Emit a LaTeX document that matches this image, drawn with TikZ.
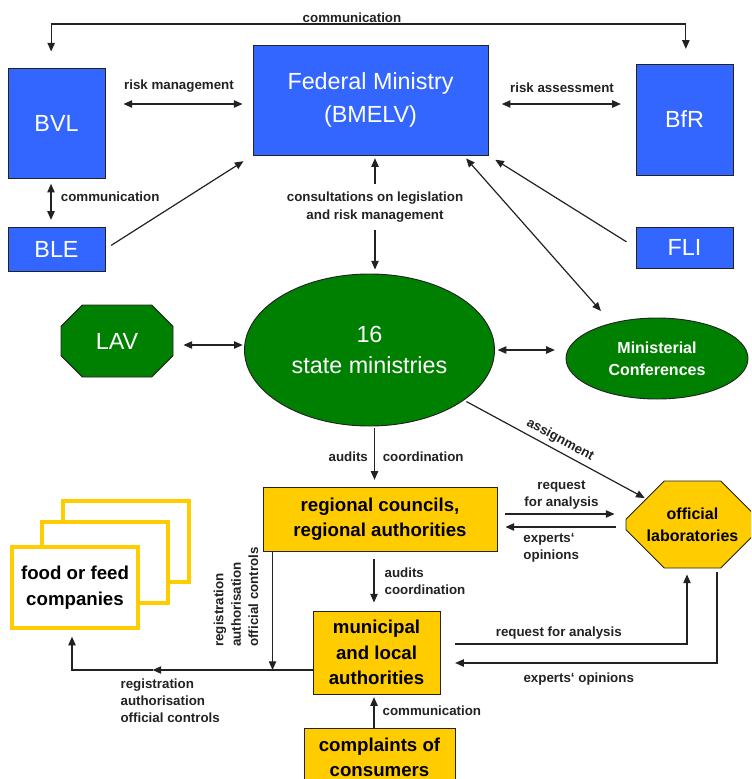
\documentclass[tikz,border=0pt]{standalone}
\usepackage{fontspec}
\setmainfont{Liberation Sans}
\usetikzlibrary{arrows.meta,calc,shapes.geometric,shapes.misc}
\definecolor{fedblue}{HTML}{3366FF}
\definecolor{landgreen}{HTML}{008000}
\definecolor{regyellow}{HTML}{FFCC00}
\definecolor{edgegray}{HTML}{222222}

\begin{document}
\begin{tikzpicture}[x=0.75pt,y=-0.75pt,
bluebox/.style={draw=edgegray,line width=0.7pt,fill=fedblue,text=white,inner sep=0pt,align=center,font=\fontsize{17.5}{24.5}\selectfont},
greenoval/.style={ellipse,draw=edgegray,line width=0.7pt,fill=landgreen,text=white,inner sep=0pt,align=center},
yelbox/.style={draw=edgegray,line width=0.7pt,fill=regyellow,inner sep=0pt,align=center,font=\bfseries\fontsize{14}{19}\selectfont},
cutbox/.style={chamfered rectangle,chamfered rectangle xsep=10pt,chamfered rectangle ysep=10pt,draw=edgegray,line width=0.7pt,inner sep=0pt,align=center},
firmbox/.style={draw=regyellow,line width=3pt,fill=white,minimum width=94.5pt,minimum height=60.75pt},
lbl/.style={font=\bfseries\fontsize{10}{13}\selectfont,inner sep=1pt,text=edgegray},
arr/.style={draw=edgegray,line width=0.9pt,-{Triangle[length=6.5pt,width=5.5pt]}},
dblarr/.style={draw=edgegray,line width=0.9pt,{Triangle[length=6.5pt,width=5.5pt]}-{Triangle[length=6.5pt,width=5.5pt]}}]

\useasboundingbox (0,0) rectangle (751,779);
\clip (0,0) rectangle (751,779);

%Federal level
\node[bluebox,minimum width=72.75pt,minimum height=82.5pt] (BVL) at (56.5,123) {BVL};
\node[bluebox,minimum width=176.25pt,minimum height=82.5pt] (fed) at (370.5,100) {Federal Ministry\\(BMELV)};
\node[bluebox,minimum width=72.75pt,minimum height=83.25pt] (BfR) at (684.5,119.5) {BfR};
\node[bluebox,minimum width=72.75pt,minimum height=33pt] (BLE) at (56.5,249) {BLE};
\node[bluebox,minimum width=72.75pt,minimum height=30.75pt] (FLI) at (684.5,247.5) {FLI};

\coordinate (commtop) at (352,24);
\draw[dblarr,shorten <=12pt,shorten >=11pt] ([xshift=-4pt]BVL.north) |- (commtop) -| ([xshift=1pt]BfR.north);
\node[lbl,above] (lcomm) at (commtop) {communication};

\draw[dblarr,shorten <=13.5pt,shorten >=7.5pt] ($(BVL.east)+(0,-19)$) -- ($(BVL.east -| fed.west)+(0,-19)$) node[lbl,midway,above=7pt] (lriskm) {risk management};
\draw[dblarr,shorten <=10pt,shorten >=11pt] ($(fed.east)+(0,4)$) -- ($(fed.east -| BfR.west)+(0,4)$) node[lbl,midway,above=7pt] (lriska) {risk assessment};
\draw[dblarr,shorten <=4pt,shorten >=5pt] ($(BVL.south)+(-5.5,0)$) -- ($(BLE.north)+(-5.5,0)$) node[lbl,pos=0.37,right=6pt] (lcomm2) {communication};
\draw[arr,shorten <=5pt,shorten >=8pt] (BLE.east) -- (fed.south west);
\draw[arr,shorten <=8pt,shorten >=6pt] (FLI.west) -- (fed.south east);

%State level
\node[greenoval,minimum width=187.5pt,minimum height=114pt,font=\fontsize{17.5}{23.5}\selectfont] (state) at (369.5,350) {16\\state ministries};
\node[greenoval,minimum width=136.5pt,minimum height=60.75pt,font=\bfseries\fontsize{12}{16.5}\selectfont] (minconf) at (657,358.5) {Ministerial\\Conferences};
\node[cutbox,fill=landgreen,text=white,minimum width=84pt,minimum height=54pt,font=\fontsize{17.5}{24}\selectfont] (LAV) at (117,341) {LAV};

\node[lbl,align=center] (consult) at (375,207) {consultations on legislation\\and risk management};
\draw[arr,shorten <=5pt,shorten >=2pt] (consult.north) -- (consult.north |- fed.south);
\draw[arr,shorten <=5pt,shorten >=3pt] (consult.south) -- (consult.south |- state.north);
\draw[dblarr,shorten <=3pt,shorten >=12pt] ($(fed.south east)+(-25,0)$) -- (minconf.142);
\draw[dblarr,shorten <=7.5pt,shorten >=1pt] ($(LAV.east)+(0,4)$) -- ($(LAV.east -| state.west)+(0,4)$);
\draw[dblarr,shorten <=2pt,shorten >=8pt] (state.east) -- (state.east -| minconf.west);

%Regional and local level
\node[yelbox,minimum width=175.5pt,minimum height=48pt] (regional) at (380,519) {regional councils,\\regional authorities};
\node[yelbox,minimum width=95.25pt,minimum height=62.25pt] (municipal) at (376.5,652.5) {municipal\\and local\\authorities};
\node[yelbox,minimum width=113.25pt,minimum height=43.5pt] (complaints) at (379.5,757) {complaints of\\consumers};
\node[cutbox,chamfered rectangle xsep=16pt,chamfered rectangle ysep=16pt,fill=regyellow,minimum width=99.75pt,minimum height=65.25pt,font=\bfseries\fontsize{12}{16.5}\selectfont] (labs) at (692.5,524.5) {official\\laboratories};

\draw[arr,shorten <=2pt,shorten >=1pt] (state.-28) -- (labs.151) node[lbl,sloped,above=2pt,pos=0.5] (lassign) {assignment};
\draw[arr,shorten <=1.5pt,shorten >=5pt] ($(state.south)+(5,0)$) -- ($(state.south |- regional.north)+(5,0)$) node[lbl,midway,left=3.5pt] (laudits) {audits} node[lbl,midway,right=4.8pt] (lcoord) {coordination};
\draw[arr,shorten <=6pt,shorten >=8.25pt] ($(regional.east)+(0,-5)$) -- ($(regional.east -| labs.west)+(0,-5)$) node[lbl,midway,above=2pt,align=center] (lreq) {request\\for analysis};
\draw[arr,shorten <=7pt,shorten >=6pt] ($(labs.west)+(0,2.5)$) -- ($(labs.west -| regional.east)+(0,2.5)$) node[lbl,pos=0.58,below=3pt,align=left] (lexp) {experts‘\\opinions};
\draw[arr,shorten <=6pt,shorten >=6pt] ($(municipal.north |- regional.south)+(-2.5,0)$) -- ($(municipal.north)+(-2.5,0)$) node[lbl,midway,right=6.5pt,align=left] (laudits2) {audits\\coordination};
\draw[arr,shorten >=2pt] ($(complaints.north -| municipal.south)+(-2.5,0)$) -- ($(municipal.south)+(-2.5,0)$) node[lbl,midway,right=5pt] (lcomm3) {communication};
\draw[arr,shorten <=11pt,shorten >=4.5pt] ($(municipal.east)+(0,-8.5)$) -| ($(labs.south)+(-5.5,0)$) node[lbl,pos=0.24,above=2pt] (lreq2) {request for analysis};
\draw[arr,shorten <=3pt,shorten >=11pt] ($(labs.south)+(24.5,0)$) |- ($(municipal.east)+(0,10.5)$) node[lbl,pos=0.75,below=6pt] (lexp2) {experts‘ opinions};

%Companies
\node[firmbox] (food3) at (126,541.5) {};
\node[firmbox] (food2) at (105,562) {};
\node[firmbox,font=\bfseries\fontsize{14}{19}\selectfont,align=center] (food1) at (75,587.5) {food or feed\\companies};

\coordinate (munout) at ($(municipal.west)+(0,17.5)$);
\coordinate (midtip) at ($(munout)+(-160,0)$);
\draw[arr] (munout) -- (midtip);
\draw[arr,shorten >=5pt] (midtip) -| ($(food1.south)+(-3,0)$);
\draw[arr] ($(regional.south west)+(10,0)$) -- ($(regional.south west |- munout)+(10,0)$);
\node[lbl,rotate=90,align=left] (lregv) at (236,597) {registration\\authorisation\\official controls};
\node[lbl,align=left,anchor=north west] (lregh) at (119,677) {registration\\authorisation\\official controls};

\end{tikzpicture}
\end{document}
